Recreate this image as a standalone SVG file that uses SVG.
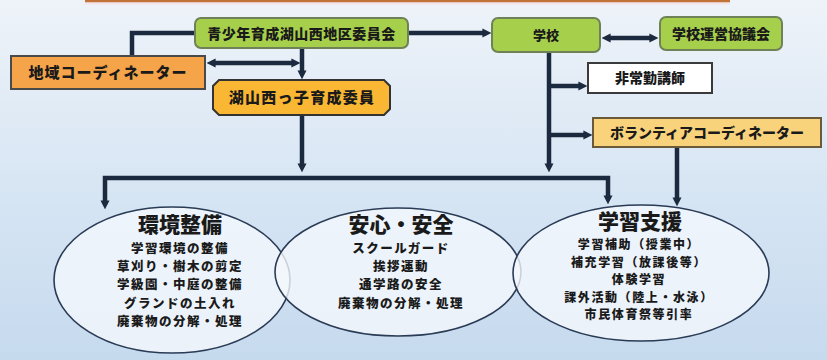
<svg xmlns="http://www.w3.org/2000/svg" width="827" height="360" viewBox="0 0 827 360">
<defs>
<linearGradient id="bg" x1="0" y1="0" x2="0" y2="1">
<stop offset="0" stop-color="#eef3f9"/>
<stop offset="0.5" stop-color="#d8e6f4"/>
<stop offset="1" stop-color="#c6daee"/>
</linearGradient>
<marker id="ah" viewBox="0 0 10 10" markerWidth="9" markerHeight="11" refX="4" refY="5" orient="auto-start-reverse" markerUnits="userSpaceOnUse">
<path d="M0,0 L10,5 L0,10 Z" fill="#1c2a3f"/>
</marker>
<style>
text{font-family:"Noto Sans CJK JP","Noto Sans CJK SC",sans-serif;font-weight:900;fill:#1a1a1a;text-anchor:middle}
.green{fill:#a6cf4c;stroke:#6f8257;stroke-width:2}
.ln{fill:none;stroke:#1c2a3f;stroke-width:4.5}
.ell{fill:#f4f8fc;fill-opacity:0.8;stroke:#2a3b55;stroke-width:1.6}
.bt{font-size:12.5px;letter-spacing:1.5px}
.rt{font-size:12px;letter-spacing:1.6px}
.t1{font-size:21px}
</style>
</defs>
<rect width="827" height="360" fill="url(#bg)"/>
<rect x="85" y="0" width="645" height="2.5" fill="#c27438"/>
<rect x="85" y="2.5" width="645" height="2" fill="#f6e3e9"/>

<g id="connectors">
<polyline class="ln" points="195,33 132,33 132,56"/>
<line class="ln" x1="212" y1="63" x2="295" y2="63" marker-start="url(#ah)" marker-end="url(#ah)"/>
<line class="ln" x1="302" y1="48" x2="302" y2="74" marker-end="url(#ah)"/>
<line class="ln" x1="302" y1="115" x2="302" y2="167" marker-end="url(#ah)"/>
<polyline class="ln" points="105,204 105,178 608,178 608,199" marker-start="url(#ah)" marker-end="url(#ah)"/>
<line class="ln" x1="408" y1="33" x2="486" y2="33" marker-end="url(#ah)"/>
<line class="ln" x1="607" y1="38" x2="653" y2="38" marker-start="url(#ah)" marker-end="url(#ah)"/>
<line class="ln" x1="549" y1="52" x2="549" y2="167" marker-end="url(#ah)"/>
<line class="ln" x1="549" y1="86" x2="582" y2="86" marker-end="url(#ah)"/>
<line class="ln" x1="549" y1="135" x2="587" y2="135" marker-end="url(#ah)"/>
<line class="ln" x1="677" y1="147" x2="677" y2="201" marker-end="url(#ah)"/>
</g>

<g id="n-seishonen">
<rect class="green" x="195" y="18" width="213" height="30" rx="6"/>
<text x="301.5" y="38.5" style="font-size:14px;letter-spacing:0.5px">青少年育成湖山西地区委員会</text>
</g>
<g id="n-chiiki">
<rect x="11" y="56" width="194" height="33" fill="#f5a44a" stroke="#4a4a4a" stroke-width="2"/>
<text x="108" y="78" style="font-size:15px;letter-spacing:1px">地域コーディネーター</text>
</g>
<g id="n-koyamanishi">
<path d="M219,80 L384,80 L390,86 L390,109 L384,115 L219,115 L213,109 L213,86 Z" fill="#f9b733" stroke="#333" stroke-width="2"/>
<text x="302" y="103" style="font-size:15px;letter-spacing:1.3px">湖山西っ子育成委員</text>
</g>
<g id="n-gakko">
<rect class="green" x="492" y="18" width="108" height="34" rx="6"/>
<text x="546" y="40" style="font-size:13px">学校</text>
</g>
<g id="n-unei">
<rect class="green" x="660" y="17" width="122" height="33" rx="6"/>
<text x="721" y="39" style="font-size:14px">学校運営協議会</text>
</g>
<g id="n-hijokin">
<rect x="588" y="63" width="124" height="30" fill="#ffffff" stroke="#3a3a3a" stroke-width="2"/>
<text x="650" y="83" style="font-size:14px">非常勤講師</text>
</g>
<g id="n-volunteer">
<rect x="593" y="118" width="228" height="29" fill="#f9d27c" stroke="#6b5a3a" stroke-width="2"/>
<text x="707" y="138" style="font-size:14px">ボランティアコーディネーター</text>
</g>

<g id="n-kankyo">
<ellipse class="ell" cx="172" cy="280" rx="118" ry="73"/>
<text class="t1" x="180" y="232">環境整備</text>
<text class="bt" x="180" y="253">学習環境の整備</text>
<text class="bt" x="180" y="271.2">草刈り・樹木の剪定</text>
<text class="bt" x="180" y="289.4">学級園・中庭の整備</text>
<text class="bt" x="180" y="307.6">グランドの土入れ</text>
<text class="bt" x="180" y="325.8">廃棄物の分解・処理</text>
</g>
<g id="n-anshin">
<ellipse class="ell" cx="398" cy="272" rx="123" ry="64"/>
<text class="t1" x="401" y="232">安心・安全</text>
<text class="bt" x="401" y="253">スクールガード</text>
<text class="bt" x="401" y="271.2">挨拶運動</text>
<text class="bt" x="401" y="289.4">通学路の安全</text>
<text class="bt" x="401" y="307.6">廃棄物の分解・処理</text>
</g>
<g id="n-gakushu">
<ellipse class="ell" cx="641" cy="273" rx="128" ry="68"/>
<text class="t1" x="640" y="229">学習支援</text>
<text class="rt" x="639" y="249">学習補助（授業中）</text>
<text class="rt" x="639" y="266.5">補充学習（放課後等）</text>
<text class="rt" x="639" y="284">体験学習</text>
<text class="rt" x="639" y="301.5">課外活動（陸上・水泳）</text>
<text class="rt" x="639" y="319">市民体育祭等引率</text>
</g>
</svg>
